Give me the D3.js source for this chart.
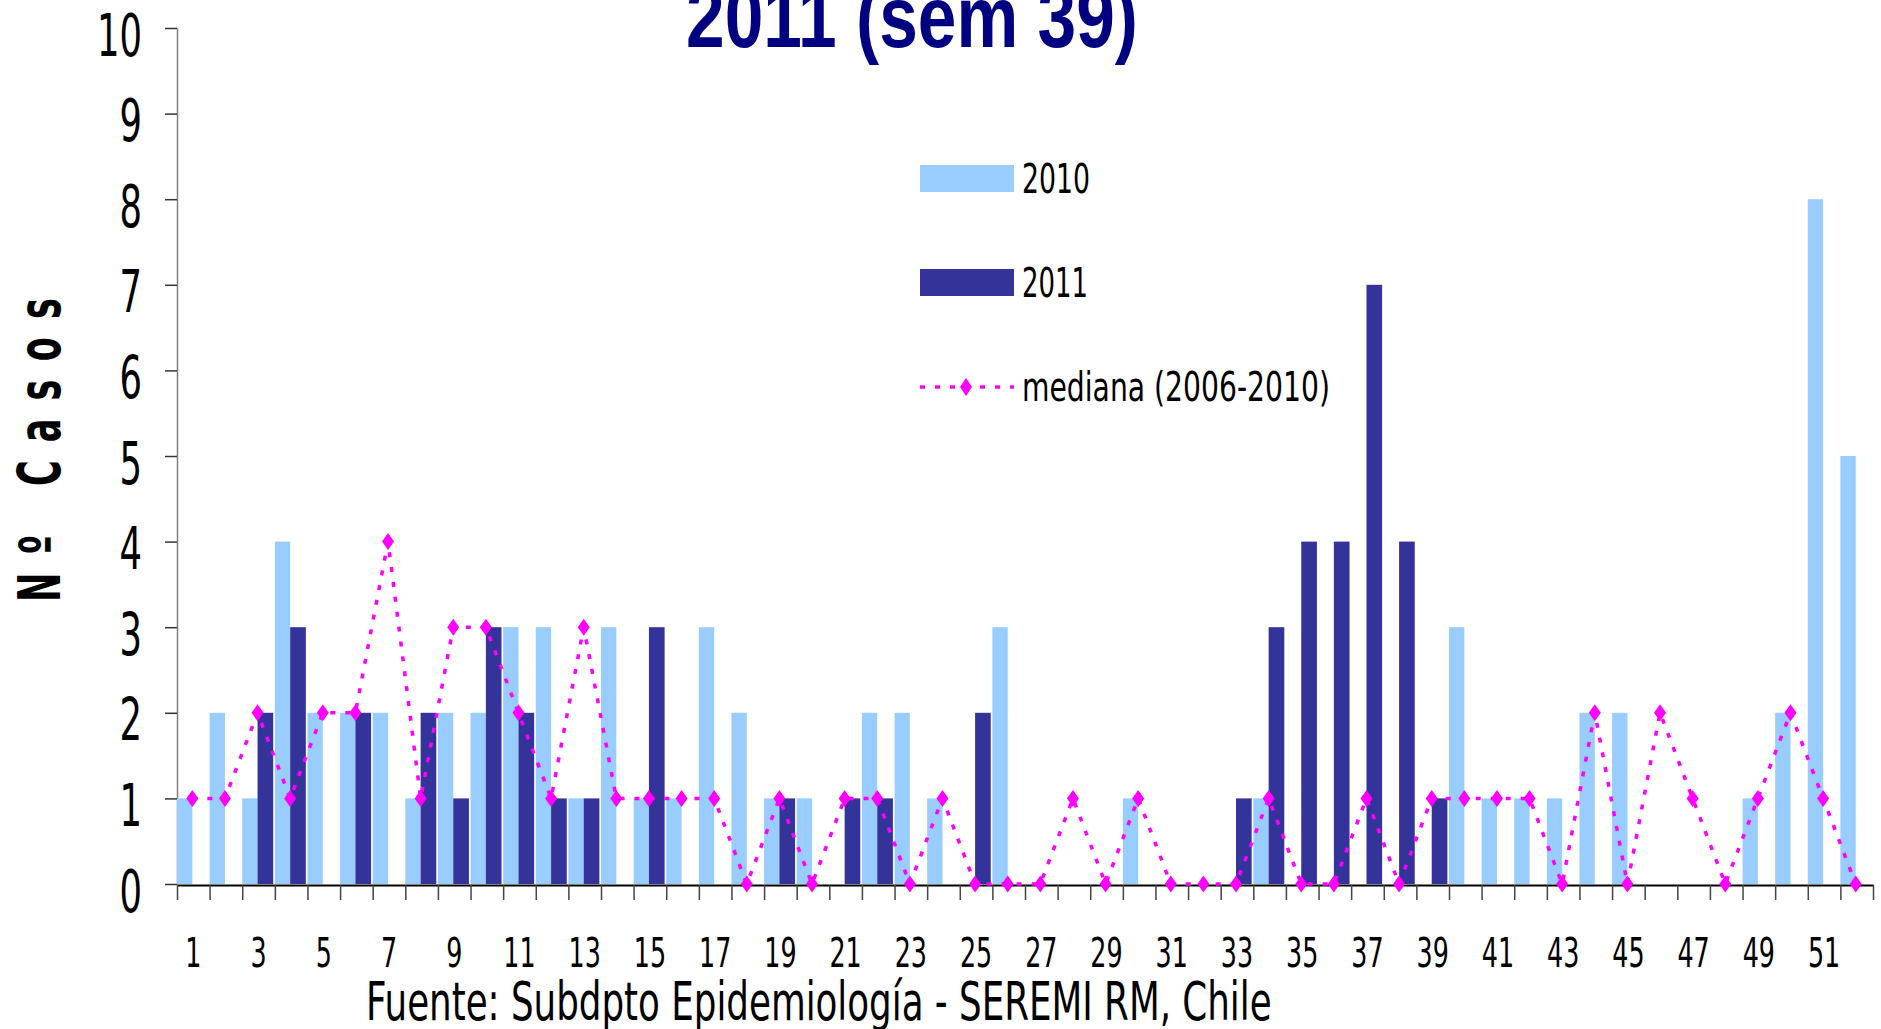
<!DOCTYPE html>
<html>
<head>
<meta charset="utf-8">
<script src="https://cdn.jsdelivr.net/npm/d3@7"></script>
<style>
  body { margin: 0; background: #fff; }
  svg { display: block; }
</style>
</head>
<body>
<svg id="chart" width="1881" height="1029"></svg>
<script>
// semanas epidemiologicas
var weeks = [1,2,3,4,5,6,7,8,9,10,11,12,13,14,15,16,17,18,19,20,21,22,23,24,25,26,
             27,28,29,30,31,32,33,34,35,36,37,38,39,40,41,42,43,44,45,46,47,48,49,50,51,52];
var casos2010 = [1,2,1,4,2,2,2,1,2,2,3,3,1,3,1,1,3,2,1,1,0,2,2,1,0,3,
                 0,0,0,1,0,0,0,1,0,0,0,0,0,3,1,1,1,2,2,0,0,0,1,2,8,5];
// 2011 hasta semana 39
var casos2011 = [0,0,2,3,0,2,0,2,1,3,2,1,1,0,3,0,0,0,1,0,1,1,0,0,2,0,
                 0,0,0,0,0,0,1,3,4,4,7,4,1];
var mediana = [1,1,2,1,2,2,4,1,3,3,2,1,3,1,1,1,1,0,1,0,1,1,0,1,0,0,
               0,1,0,1,0,0,0,1,0,0,1,0,1,1,1,1,0,2,0,2,1,0,1,2,1,0];
var yTicks = [0,1,2,3,4,5,6,7,8,9,10];
var xLabels = weeks.filter(function(w){ return w % 2 == 1; });

var c2010 = "#99ccff", c2011 = "#333399", cMed = "#ff00ff";
var numFont = "DejaVu Sans";

var svg = d3.select("#chart");

var x = d3.scaleBand().domain(weeks).range([177, 1873]).padding(0);
var xEdge = d3.scaleLinear().domain([0, 52]).range([177, 1873]);
var y = d3.scaleLinear().domain([0, 10]).range([884, 28]);
var bw = x.bandwidth();
var mid = bw * 0.47;

// squeeze a text horizontally so it fills the given width
function fitText(g, target) {
  var len = g.select("text").node().getBBox().width;
  return target / len;
}

// y axis
var yAxis = svg.append("g")
  .attr("transform", "translate(177,0)")
  .call(d3.axisLeft(y).tickValues(yTicks).tickSize(12).tickSizeOuter(0));
yAxis.select(".domain").attr("stroke", "#808080").attr("stroke-width", 1.5);
yAxis.selectAll(".tick line").attr("stroke", "#333").attr("stroke-width", 1.5);
yAxis.selectAll(".tick text")
  .attr("x", 0).attr("dy", 0)
  .attr("transform", "translate(-35,27) scale(0.6,1)")
  .attr("font-family", numFont).attr("font-size", 59).attr("fill", "#000")
  .attr("text-anchor", "end");

// bars 2010
svg.append("g").selectAll("rect")
  .data(weeks.map(function(w, i){ return {w: w, v: casos2010[i]}; }))
  .enter().append("rect")
  .attr("x", function(d){ return x(d.w) + mid - bw * 0.47; })
  .attr("width", bw * 0.47)
  .attr("y", function(d){ return y(d.v); })
  .attr("height", function(d){ return y(0) - y(d.v); })
  .attr("fill", c2010);

// bars 2011
svg.append("g").selectAll("rect")
  .data(casos2011.map(function(v, i){ return {w: weeks[i], v: v}; }))
  .enter().append("rect")
  .attr("x", function(d){ return x(d.w) + mid; })
  .attr("width", bw * 0.48)
  .attr("y", function(d){ return y(d.v); })
  .attr("height", function(d){ return y(0) - y(d.v); })
  .attr("fill", c2011);

// x axis: tick marks on the category edges, labels in the centres
var xTicks = svg.append("g")
  .attr("transform", "translate(0,885)")
  .call(d3.axisBottom(xEdge).ticks(52).tickSize(15).tickSizeOuter(0).tickFormat(""));
xTicks.select(".domain").attr("stroke", "#000").attr("stroke-width", 2);
xTicks.selectAll(".tick line").attr("stroke", "#444").attr("stroke-width", 1.5);

var xAxis = svg.append("g")
  .attr("transform", "translate(0,885)")
  .call(d3.axisBottom(x).tickValues(xLabels).tickSize(0).tickSizeOuter(0));
xAxis.select(".domain").remove();
xAxis.selectAll(".tick text")
  .attr("y", 0).attr("dy", 0)
  .attr("transform", "translate(0,82) scale(0.62,1)")
  .attr("font-family", numFont).attr("font-size", 41).attr("fill", "#000");

// mediana
var medData = weeks.map(function(w, i){ return {w: w, v: mediana[i]}; });
var line = d3.line()
  .x(function(d){ return x(d.w) + mid; })
  .y(function(d){ return y(d.v); });
svg.append("path")
  .datum(medData)
  .attr("d", line)
  .attr("fill", "none")
  .attr("stroke", cMed)
  .attr("stroke-width", 3.5)
  .attr("stroke-dasharray", "5,10");

var diamond = "M0,-8.5L6,0L0,8.5L-6,0Z";
svg.append("g").selectAll("path")
  .data(medData)
  .enter().append("path")
  .attr("d", diamond)
  .attr("transform", function(d){ return "translate(" + (x(d.w) + mid) + "," + y(d.v) + ")"; })
  .attr("fill", cMed);

// legend
var leg = svg.append("g");
leg.append("rect").attr("x", 920).attr("y", 165).attr("width", 94).attr("height", 27).attr("fill", c2010);
leg.append("rect").attr("x", 920).attr("y", 269).attr("width", 94).attr("height", 27).attr("fill", c2011);
leg.append("line").attr("x1", 920).attr("x2", 1014).attr("y1", 387).attr("y2", 387)
  .attr("stroke", cMed).attr("stroke-width", 3.5).attr("stroke-dasharray", "5,10");
leg.append("path").attr("d", diamond).attr("transform", "translate(966,387) scale(1,1.05)").attr("fill", cMed);

var legItems = [
  {t: "2010", y: 193, w: 68},
  {t: "2011", y: 297, w: 66},
  {t: "mediana (2006-2010)", y: 401, w: 308}
];
legItems.forEach(function(it){
  var g = leg.append("g");
  g.append("text").text(it.t)
    .attr("font-family", numFont).attr("font-size", 41).attr("fill", "#000");
  var s = fitText(g, it.w);
  g.attr("transform", "translate(1022," + it.y + ") scale(" + s + ",1)");
});

// title (cut off at the top, as in the source)
var tg = svg.append("g");
tg.append("text").text("2011 (sem 39)")
  .attr("font-family", "Liberation Sans, Arial, sans-serif")
  .attr("font-weight", "bold").attr("font-size", 88)
  .attr("fill", "#000080").attr("text-anchor", "middle");
tg.attr("transform", "translate(912,47) scale(" + fitText(tg, 452) + ",1)");

// y axis title
var yt = svg.append("g");
yt.append("text").text("Nº Casos")
  .attr("font-family", numFont).attr("font-weight", "bold")
  .attr("font-size", 58).attr("letter-spacing", 30)
  .attr("fill", "#000").attr("text-anchor", "middle");
yt.attr("transform", "translate(60,441) rotate(-90) scale(" + fitText(yt, 322) + ",1)");

// fuente
var fg = svg.append("g");
fg.append("text").text("Fuente: Subdpto Epidemiología - SEREMI RM, Chile")
  .attr("font-family", numFont).attr("font-size", 53).attr("fill", "#000");
fg.attr("transform", "translate(366,1020) scale(" + fitText(fg, 906) + ",1)");
</script>
</body>
</html>
